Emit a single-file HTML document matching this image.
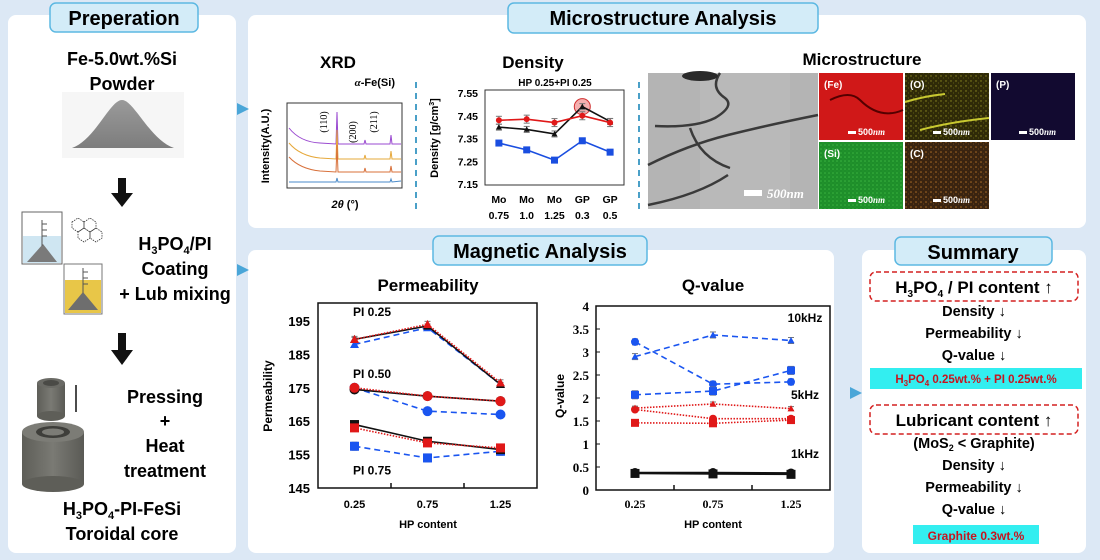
<!DOCTYPE html>
<html><head><meta charset="utf-8"><style>
html,body{margin:0;padding:0;width:1100px;height:560px;overflow:hidden;background:#dce8f5}
svg{display:block;font-family:"Liberation Sans",sans-serif;font-weight:bold}
.t{font-family:"Liberation Sans",sans-serif;font-weight:bold}
.s{font-family:"Liberation Serif",serif;font-weight:bold}
</style></head><body>
<svg id="root" width="1100" height="560" viewBox="0 0 1100 560">
<defs>
<linearGradient id="cone" x1="0" y1="0" x2="0" y2="1"><stop offset="0" stop-color="#9a9a9a"/><stop offset="1" stop-color="#7d7d7d"/></linearGradient>
<linearGradient id="cyl" x1="0" y1="0" x2="1" y2="0"><stop offset="0" stop-color="#5e5e58"/><stop offset="0.5" stop-color="#7a7a74"/><stop offset="1" stop-color="#5a5a55"/></linearGradient>
<pattern id="dotsY" width="5" height="5" patternUnits="userSpaceOnUse"><circle cx="1" cy="1" r="0.7" fill="#b8b830"/><circle cx="3.5" cy="3" r="0.5" fill="#8a8a20"/></pattern>
<pattern id="dotsG" width="4" height="4" patternUnits="userSpaceOnUse"><circle cx="1" cy="1" r="0.8" fill="#4ccc4c"/><circle cx="3" cy="3" r="0.6" fill="#2aa030"/></pattern>
<pattern id="dotsC" width="5" height="5" patternUnits="userSpaceOnUse"><circle cx="1" cy="2" r="0.8" fill="#d88a30"/><circle cx="3.5" cy="4" r="0.5" fill="#a06020"/></pattern>
</defs>

<!-- Panels -->
<rect x="8" y="15" width="228" height="538" rx="8" fill="#fff"/>
<rect x="248" y="15" width="838" height="213" rx="8" fill="#fff"/>
<rect x="248" y="250" width="586" height="303" rx="8" fill="#fff"/>
<rect x="862" y="250" width="224" height="303" rx="8" fill="#fff"/>

<!-- Title tabs -->
<g>
<rect x="50" y="3" width="148" height="29" rx="6" fill="#d3ecf8" stroke="#5cb8e2" stroke-width="1.5"/>
<text x="124" y="25" text-anchor="middle" font-size="20" class="t">Preperation</text></g>
<g>
<rect x="508" y="3" width="310" height="30" rx="6" fill="#d3ecf8" stroke="#5cb8e2" stroke-width="1.5"/>
<text x="663" y="25" text-anchor="middle" font-size="20" class="t">Microstructure Analysis</text></g>
<g>
<rect x="433" y="236" width="214" height="29" rx="6" fill="#d3ecf8" stroke="#5cb8e2" stroke-width="1.5"/>
<text x="540" y="258" text-anchor="middle" font-size="20" class="t">Magnetic Analysis</text></g>
<g>
<rect x="895" y="237" width="157" height="28" rx="6" fill="#d3ecf8" stroke="#5cb8e2" stroke-width="1.5"/>
<text x="973" y="259" text-anchor="middle" font-size="20" class="t">Summary</text></g>

<!-- flow arrows -->
<polygon points="237,103 249,109 237,115" fill="#4aa6d8"/>
<polygon points="237,264 249,270 237,276" fill="#4aa6d8"/>
<polygon points="850,387 862,393 850,399" fill="#4aa6d8"/>

<!-- Preparation contents -->
<text x="122" y="65" text-anchor="middle" font-size="18" class="t">Fe-5.0wt.%Si</text>
<text x="122" y="90" text-anchor="middle" font-size="18" class="t">Powder</text>
<rect x="62" y="92" width="122" height="66" fill="#f6f6f6"/>
<path d="M72,148 C95,140 110,100 122,100 C134,100 150,140 174,148 Z" fill="url(#cone)"/>
<g><rect x="118" y="178" width="8" height="16" fill="#111"/><polygon points="111,193 133,193 122,207" fill="#111"/></g>
<g>
<rect x="22" y="212" width="40" height="52" fill="#fff" stroke="#666" stroke-width="1"/>
<rect x="23" y="236" width="38" height="27" fill="#cfe6f2"/>
<polygon points="27,262 43,244 57,262" fill="#7a7a7a"/>
<line x1="42" y1="220" x2="42" y2="246" stroke="#555"/>
<g stroke="#555"><line x1="42" y1="224" x2="47" y2="224"/><line x1="42" y1="230" x2="47" y2="230"/><line x1="42" y1="236" x2="47" y2="236"/></g>
<rect x="64" y="264" width="38" height="50" fill="#fff" stroke="#777"/>
<rect x="65" y="280" width="36" height="33" fill="#e8c648"/>
<polygon points="68,310 83,292 98,310" fill="#6e6e6e"/>
<line x1="83" y1="268" x2="83" y2="293" stroke="#555"/>
<g stroke="#555"><line x1="83" y1="272" x2="88" y2="272"/><line x1="83" y1="278" x2="88" y2="278"/><line x1="83" y1="284" x2="88" y2="284"/></g>
<path d="M72,222 l6,-4 6,4 0,6 -6,4 -6,-4z M84,222 l6,-4 6,4 0,6 -6,4 -6,-4z M78,232 l6,-4 6,4 0,6 -6,4 -6,-4z M90,232 l6,-4 6,4 0,6 -6,4 -6,-4z" fill="none" stroke="#333" stroke-width="0.8" stroke-dasharray="1.5,1"/>
</g>
<text x="175" y="250" text-anchor="middle" font-size="18" class="t">H<tspan font-size="11" dy="4">3</tspan><tspan dy="-4">PO</tspan><tspan font-size="11" dy="4">4</tspan><tspan dy="-4">/PI</tspan></text>
<text x="175" y="275" text-anchor="middle" font-size="18" class="t">Coating</text>
<text x="175" y="300" text-anchor="middle" font-size="18" class="t">+ Lub mixing</text>
<g><rect x="118" y="333" width="8" height="18" fill="#111"/><polygon points="111,350 133,350 122,365" fill="#111"/></g>
<g>
<rect x="37" y="383" width="28" height="33" fill="url(#cyl)"/>
<ellipse cx="51" cy="383" rx="14" ry="5" fill="#6a6a65"/><ellipse cx="51" cy="383" rx="8" ry="3" fill="#4a4a46"/>
<ellipse cx="51" cy="416" rx="14" ry="5" fill="#5e5e58"/>
<line x1="76" y1="385" x2="76" y2="412" stroke="#111" stroke-width="1.5"/>
<rect x="22" y="432" width="62" height="52" fill="url(#cyl)"/>
<ellipse cx="53" cy="484" rx="31" ry="8" fill="#5e5e58"/>
<ellipse cx="53" cy="432" rx="31" ry="10" fill="#7c7c76"/>
<ellipse cx="53" cy="432" rx="17" ry="6" fill="#3e3e3a"/><ellipse cx="53" cy="432" rx="11" ry="3.5" fill="#7c7c76"/>
</g>
<text x="165" y="403" text-anchor="middle" font-size="18" class="t">Pressing</text>
<text x="165" y="427" text-anchor="middle" font-size="18" class="t">+</text>
<text x="165" y="452" text-anchor="middle" font-size="18" class="t">Heat</text>
<text x="165" y="477" text-anchor="middle" font-size="18" class="t">treatment</text>
<text x="122" y="515" text-anchor="middle" font-size="18" class="t">H<tspan font-size="11" dy="4">3</tspan><tspan dy="-4">PO</tspan><tspan font-size="11" dy="4">4</tspan><tspan dy="-4">-PI-FeSi</tspan></text>
<text x="122" y="540" text-anchor="middle" font-size="18" class="t">Toroidal core</text>

<!-- dividers -->
<line x1="416" y1="82" x2="416" y2="210" stroke="#4aa0c8" stroke-width="2" stroke-dasharray="6,5"/>
<line x1="639" y1="82" x2="639" y2="210" stroke="#4aa0c8" stroke-width="2" stroke-dasharray="6,5"/>

<!-- XRD -->
<text x="338" y="68" text-anchor="middle" font-size="17" class="t">XRD</text>
<text x="395" y="86" text-anchor="end" font-size="11" class="t"><tspan font-style="italic" font-family="Liberation Serif">α</tspan>-Fe(Si)</text>
<g>
<rect x="287" y="103" width="115" height="85" fill="#fff" stroke="#333" stroke-width="1"/>
<path d="M289,128 Q300,142 320,143 L336,144 L337,112 L338,144 L364,144 L365,140 L366,144 L390,144 L391,135 L392,144 L401,144" fill="none" stroke="#9a4ad0" stroke-width="1"/>
<path d="M289,143 Q300,156 320,158 L336,159 L337,130 L338,159 L364,159 L365,155 L366,159 L390,159 L391,151 L392,159 L401,159" fill="none" stroke="#e6a83a" stroke-width="1"/>
<path d="M289,157 Q300,169 320,171 L336,172 L337,145 L338,172 L364,172 L365,168 L366,172 L390,172 L391,166 L392,172 L401,172" fill="none" stroke="#d8703a" stroke-width="1"/>
<path d="M289,182 L336,182 L337,178 L338,182 L390,182 L391,179 L392,182 L401,181" fill="none" stroke="#4a8ac8" stroke-width="1"/>
<text transform="translate(327,122) rotate(-90)" font-size="10" font-family="Liberation Serif" font-weight="normal" text-anchor="middle">(110)</text>
<text transform="translate(356,132) rotate(-90)" font-size="10" font-family="Liberation Serif" font-weight="normal" text-anchor="middle">(200)</text>
<text transform="translate(377,122) rotate(-90)" font-size="10" font-family="Liberation Serif" font-weight="normal" text-anchor="middle">(211)</text>
</g>
<text transform="translate(269,146) rotate(-90)" text-anchor="middle" font-size="11" class="t">Intensity(A.U.)</text>
<text x="345" y="208" text-anchor="middle" font-size="11" class="t"><tspan font-style="italic">2θ</tspan> (°)</text>

<!-- Density -->
<text x="533" y="68" text-anchor="middle" font-size="17" class="t">Density</text>
<text x="555" y="86" text-anchor="middle" font-size="10" class="t">HP 0.25+PI 0.25</text>
<text transform="translate(438,138) rotate(-90)" text-anchor="middle" font-size="11" class="t">Density [g/cm<tspan font-size="7" dy="-4">3</tspan><tspan dy="4">]</tspan></text>
<g id="density"></g>

<!-- Microstructure -->
<text x="862" y="65" text-anchor="middle" font-size="17" class="t">Microstructure</text>
<g>
<rect x="648" y="73" width="170" height="136" fill="#b4b4b4"/>
<rect x="700" y="73" width="90" height="136" fill="#bcbcbc" opacity="0.6"/>
<path d="M720,73 q-10,15 5,25 q10,8 -10,20 q-20,10 -60,8 M648,165 q40,-20 80,-30 q40,-10 90,-20 M648,205 q50,-10 80,-30 M690,128 q10,30 40,40" fill="none" stroke="#3a3a3a" stroke-width="2.5"/>
<ellipse cx="700" cy="76" rx="18" ry="5" fill="#2a2a2a"/>
<rect x="744" y="190" width="18" height="6" fill="#fff"/>
<text x="767" y="198" font-size="13" fill="#fff" font-family="Liberation Serif" font-style="italic">500nm</text>
</g>
<g><rect x="819" y="73" width="84" height="67" fill="#d01818"/><path d="M830,100 q20,-10 30,0 q20,20 43,10" stroke="#500" stroke-width="2" fill="none"/><text x="824" y="88" font-size="10" fill="#fff">(Fe)</text><rect x="848" y="131" width="8" height="3" fill="#fff"/><text x="858" y="135" font-size="9" fill="#fff">500<tspan font-family="Liberation Serif" font-style="italic">nm</tspan></text></g>
<g><rect x="905" y="73" width="84" height="67" fill="#2f2a08"/><rect x="905" y="73" width="84" height="67" fill="url(#dotsY)" opacity="0.7"/><path d="M905,102 q20,-6 40,-8 M920,130 q30,-8 69,-12" stroke="#c8c830" stroke-width="2" fill="none"/><text x="910" y="88" font-size="10" fill="#fff">(O)</text><rect x="933" y="131" width="8" height="3" fill="#fff"/><text x="943" y="135" font-size="9" fill="#fff">500<tspan font-family="Liberation Serif" font-style="italic">nm</tspan></text></g>
<g><rect x="991" y="73" width="84" height="67" fill="#120a30"/><text x="996" y="88" font-size="10" fill="#fff">(P)</text><rect x="1019" y="131" width="8" height="3" fill="#fff"/><text x="1029" y="135" font-size="9" fill="#fff">500<tspan font-family="Liberation Serif" font-style="italic">nm</tspan></text></g>
<g><rect x="819" y="142" width="84" height="67" fill="#1e8e2a"/><rect x="819" y="142" width="84" height="67" fill="url(#dotsG)" opacity="0.6"/><text x="824" y="157" font-size="10" fill="#fff">(Si)</text><rect x="848" y="199" width="8" height="3" fill="#fff"/><text x="858" y="203" font-size="9" fill="#fff">500<tspan font-family="Liberation Serif" font-style="italic">nm</tspan></text></g>
<g><rect x="905" y="142" width="84" height="67" fill="#3a2410"/><rect x="905" y="142" width="84" height="67" fill="url(#dotsC)" opacity="0.7"/><text x="910" y="157" font-size="10" fill="#fff">(C)</text><rect x="933" y="199" width="8" height="3" fill="#fff"/><text x="943" y="203" font-size="9" fill="#fff">500<tspan font-family="Liberation Serif" font-style="italic">nm</tspan></text></g>

<!-- Permeability -->
<text x="428" y="291" text-anchor="middle" font-size="17" class="t">Permeability</text>
<text transform="translate(272,396) rotate(-90)" text-anchor="middle" font-size="12" class="t">Permeability</text>
<text x="428" y="528" text-anchor="middle" font-size="11" class="t">HP content</text>
<g id="perm"></g>

<!-- Q-value -->
<text x="713" y="291" text-anchor="middle" font-size="17" class="t">Q-value</text>
<text transform="translate(564,396) rotate(-90)" text-anchor="middle" font-size="12" class="t">Q-value</text>
<text x="713" y="528" text-anchor="middle" font-size="11" class="t">HP content</text>
<g id="qv"></g>

<!-- Summary -->
<rect x="870" y="272" width="208" height="29" rx="6" fill="none" stroke="#d42020" stroke-width="1.5" stroke-dasharray="5,3"/>
<text x="974" y="293" text-anchor="middle" font-size="17" class="t">H<tspan font-size="10" dy="4">3</tspan><tspan dy="-4">PO</tspan><tspan font-size="10" dy="4">4</tspan><tspan dy="-4"> / PI content ↑</tspan></text>
<text x="974" y="316" text-anchor="middle" font-size="14.5" class="t">Density ↓</text>
<text x="974" y="338" text-anchor="middle" font-size="14.5" class="t">Permeability ↓</text>
<text x="974" y="360" text-anchor="middle" font-size="14.5" class="t">Q-value ↓</text>
<rect x="870" y="368" width="212" height="21" fill="#33eef0"/>
<text x="976" y="383" text-anchor="middle" font-size="11.5" fill="#c8141e" class="t">H<tspan font-size="8" dy="3">3</tspan><tspan dy="-3">PO</tspan><tspan font-size="8" dy="3">4</tspan><tspan dy="-3"> 0.25wt.% + PI 0.25wt.%</tspan></text>
<rect x="870" y="405" width="208" height="29" rx="6" fill="none" stroke="#d42020" stroke-width="1.5" stroke-dasharray="5,3"/>
<text x="974" y="426" text-anchor="middle" font-size="17" class="t">Lubricant content ↑</text>
<text x="974" y="448" text-anchor="middle" font-size="14.5" class="t">(MoS<tspan font-size="9" dy="3">2</tspan><tspan dy="-3"> &lt; Graphite)</tspan></text>
<text x="974" y="470" text-anchor="middle" font-size="14.5" class="t">Density ↓</text>
<text x="974" y="492" text-anchor="middle" font-size="14.5" class="t">Permeability ↓</text>
<text x="974" y="514" text-anchor="middle" font-size="14.5" class="t">Q-value ↓</text>
<rect x="913" y="525" width="126" height="19" fill="#33eef0"/>
<text x="976" y="540" text-anchor="middle" font-size="12" fill="#c8141e" class="t">Graphite 0.3wt.%</text>
</svg>
<script>
// ---------- Density data ----------
const densCats1 = ["Mo","Mo","Mo","GP","GP"];
const densCats2 = ["0.75","1.0","1.25","0.3","0.5"];
const densTicks = [7.15,7.25,7.35,7.45,7.55];
const densRed = [7.43,7.435,7.42,7.45,7.42];
const densBlack = [7.40,7.39,7.37,7.49,7.425];
const densBlue = [7.33,7.30,7.255,7.34,7.29];
// ---------- Permeability data ----------
const hpCats = ["0.25","0.75","1.25"];
const permTicks = [145,155,165,175,185,195];
const permTriBlack = [189.5,193.5,176];
const permTriRed = [189.5,194,176.5];
const permTriBlue = [188,193,176];
const permCirBlack = [174.5,172.5,171];
const permCirRed = [175,172.5,171];
const permCirBlue = [175,168,167];
const permSqBlack = [164,159,156.5];
const permSqRed = [163,158.5,157];
const permSqBlue = [157.5,154,156];
// ---------- Q-value data ----------
const qTicks = [0,0.5,1,1.5,2,2.5,3,3.5,4];
const qTickLabels = ["0","0.5","1","1.5","2","2.5","3","3.5","4"];
const q10Cir = [3.22,2.3,2.35];
const q10Tri = [2.9,3.37,3.25];
const q10Sq = [2.07,2.15,2.6];
const q5Cir = [1.75,1.55,1.55];
const q5Tri = [1.78,1.87,1.77];
const q5Sq = [1.46,1.45,1.52];
const q1Cir = [0.38,0.38,0.37];
const q1Tri = [0.37,0.37,0.36];
const q1Sq = [0.36,0.35,0.34];

const NS="http://www.w3.org/2000/svg";
function mk(parent,tag,attrs){const e=document.createElementNS(NS,tag);for(const k in attrs)e.setAttribute(k,attrs[k]);parent.appendChild(e);return e;}
function marker(g,shape,x,y,r,color){
  let m;
  if(shape==="tri") m=mk(g,"polygon",{points:`${x},${y-r} ${x+r},${y+r*0.8} ${x-r},${y+r*0.8}`,fill:color});
  else if(shape==="cir") m=mk(g,"circle",{cx:x,cy:y,r:r,fill:color});
  else m=mk(g,"rect",{x:x-r,y:y-r,width:2*r,height:2*r,fill:color});
  
  
}
function series(g,vals,xf,yf,color,dash,shape,r,err,name){
  const sg=mk(g,"g",{});
  
  
  const pts=vals.map((v,i)=>xf(i)+","+yf(v)).join(" ");
  mk(sg,"polyline",{points:pts,fill:"none",stroke:color,"stroke-width":1.6,"stroke-dasharray":dash==="dash"?"6,4":dash==="dot"?"1.5,1.5":"none"});
  vals.forEach((v,i)=>{
    if(err){mk(sg,"line",{x1:xf(i),x2:xf(i),y1:yf(v)-err,y2:yf(v)+err,stroke:"#777","stroke-width":1});
      mk(sg,"line",{x1:xf(i)-3,x2:xf(i)+3,y1:yf(v)-err,y2:yf(v)-err,stroke:"#777"});
      mk(sg,"line",{x1:xf(i)-3,x2:xf(i)+3,y1:yf(v)+err,y2:yf(v)+err,stroke:"#777"});}
    marker(sg,shape,xf(i),yf(v),r,color);
  });
}
function txt(g,x,y,s,attrs){const t=mk(g,"text",Object.assign({x:x,y:y},attrs));t.textContent=s;return t;}

// Density chart
(function(){
  const g=document.getElementById("density");
  
  
  const L=485,R=624,T=90,B=185;
  const xf=i=>L+(i+0.5)*(R-L)/densCats1.length;
  const yf=v=>184-(v-7.15)*(91/0.4);
  mk(g,"rect",{x:L,y:T,width:R-L,height:B-T,fill:"#fff",stroke:"#333","stroke-width":1});
  densTicks.forEach(t=>{const e=txt(g,478,yf(t)+4,t.toFixed(2),{"text-anchor":"end","font-size":10.5,"font-weight":"bold"});
    
    });
  densCats1.forEach((c,i)=>{const a=txt(g,xf(i),203,c,{"text-anchor":"middle","font-size":10.5,"font-weight":"bold"});
    
    
    const b=txt(g,xf(i),219,densCats2[i],{"text-anchor":"middle","font-size":10.5,"font-weight":"bold"});
    
    });
  const hi=mk(g,"circle",{cx:xf(3),cy:yf(densBlack[3]),r:8,fill:"#f5b0b0",stroke:"#d03030","stroke-width":1});
  
  
  series(g,densBlue,xf,yf,"#1a4ee0","solid","sq",3.5,0,"density-series-blue");
  series(g,densBlack,xf,yf,"#111","solid","tri",3,3,"density-series-black");
  series(g,densRed,xf,yf,"#e01818","solid","cir",3,4,"density-series-red");
})();

// Permeability chart
(function(){
  const g=document.getElementById("perm");
  
  
  const L=318,R=537,T=303,B=488;
  const xf=i=>L+(i+0.5)*(R-L)/hpCats.length;
  const yf=v=>B-(v-145)*3.34;
  mk(g,"rect",{x:L,y:T,width:R-L,height:B-T,fill:"none",stroke:"#111","stroke-width":1.5});
  [1,2].forEach(k=>mk(g,"line",{x1:L+k*(R-L)/3,x2:L+k*(R-L)/3,y1:B,y2:B-5,stroke:"#111","stroke-width":1.5}));
  permTicks.forEach(t=>{const e=txt(g,310,yf(t)+5,String(t),{"text-anchor":"end","font-size":13,"font-weight":"bold"});
    
    });
  hpCats.forEach((c,i)=>{const e=txt(g,xf(i),508,c,{"text-anchor":"middle","font-size":11,"font-weight":"bold"});
    
    });
  series(g,permTriBlue,xf,yf,"#1a55f0","dash","tri",4.5,2,"perm-pi025-blue");
  series(g,permTriBlack,xf,yf,"#111","solid","tri",4.5,2,"perm-pi025-black");
  series(g,permTriRed,xf,yf,"#e01818","dot","tri",4.5,3,"perm-pi025-red");
  series(g,permCirBlue,xf,yf,"#1a55f0","dash","cir",5,2,"perm-pi050-blue");
  series(g,permCirBlack,xf,yf,"#111","solid","cir",5,3,"perm-pi050-black");
  series(g,permCirRed,xf,yf,"#e01818","dot","cir",5,2,"perm-pi050-red");
  series(g,permSqBlue,xf,yf,"#1a55f0","dash","sq",4.5,4,"perm-pi075-blue");
  series(g,permSqBlack,xf,yf,"#111","solid","sq",4.5,3,"perm-pi075-black");
  series(g,permSqRed,xf,yf,"#e01818","dot","sq",4.5,2,"perm-pi075-red");
  [["PI 0.25",yf(196.5)],["PI 0.50",yf(178)],["PI 0.75",yf(149)]].forEach(p=>{const e=txt(g,372,p[1],p[0],{"text-anchor":"middle","font-size":12,"font-weight":"bold"});
    
    });
})();

// Q-value chart
(function(){
  const g=document.getElementById("qv");
  
  
  const L=596,R=830,T=306,B=490;
  const xf=i=>L+(i+0.5)*(R-L)/hpCats.length;
  const yf=v=>B-v*(B-T)/4;
  mk(g,"rect",{x:L,y:T,width:R-L,height:B-T,fill:"none",stroke:"#111","stroke-width":1.5});
  [1,2].forEach(k=>mk(g,"line",{x1:L+k*(R-L)/3,x2:L+k*(R-L)/3,y1:B,y2:B-5,stroke:"#111","stroke-width":1.5}));
  qTicks.forEach((t,i)=>{mk(g,"line",{x1:L,x2:L+4,y1:yf(t),y2:yf(t),stroke:"#111"});
    const e=txt(g,589,yf(t)+5,qTickLabels[i],{"text-anchor":"end","font-size":13,"font-weight":"bold","font-family":"Liberation Serif"});
    
    });
  hpCats.forEach((c,i)=>{const e=txt(g,xf(i),508,c,{"text-anchor":"middle","font-size":12,"font-weight":"bold","font-family":"Liberation Serif"});
    
    });
  series(g,q10Cir,xf,yf,"#1a55f0","dash","cir",4,3,"q-10khz-circle");
  series(g,q10Tri,xf,yf,"#1a55f0","dash","tri",3.5,3,"q-10khz-triangle");
  series(g,q10Sq,xf,yf,"#1a55f0","dash","sq",4,4,"q-10khz-square");
  series(g,q5Cir,xf,yf,"#e01818","dot","cir",4,2,"q-5khz-circle");
  series(g,q5Tri,xf,yf,"#e01818","dot","tri",3.5,2,"q-5khz-triangle");
  series(g,q5Sq,xf,yf,"#e01818","dot","sq",4,2,"q-5khz-square");
  series(g,q1Cir,xf,yf,"#111","solid","cir",4.5,0,"q-1khz-circle");
  series(g,q1Tri,xf,yf,"#111","solid","tri",4.5,0,"q-1khz-triangle");
  series(g,q1Sq,xf,yf,"#111","solid","sq",4.5,0,"q-1khz-square");
  [["10kHz",yf(3.65)],["5kHz",yf(1.98)],["1kHz",yf(0.7)]].forEach(p=>{const e=txt(g,805,p[1],p[0],{"text-anchor":"middle","font-size":12,"font-weight":"bold"});
    
    });
})();
</script>
</body></html>
